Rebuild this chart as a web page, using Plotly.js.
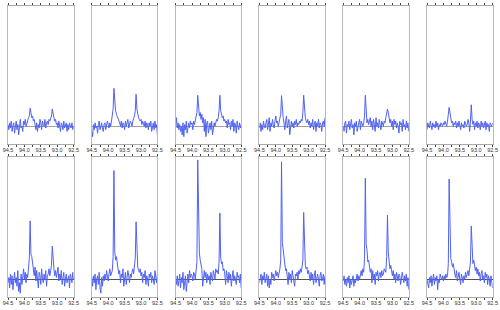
<!DOCTYPE html>
<html>
<head>
<meta charset="utf-8">
<script src="https://cdn.plot.ly/plotly-3.0.1.min.js"></script>
<style>html,body{margin:0;padding:0;background:#fff;}#chart{width:500px;height:310px;}</style>
</head>
<body>
<div id="chart"></div>
<script>
// chemical shift grid (ppm)
const ppm = [94.5,94.475,94.45,94.425,94.4,94.375,94.35,94.325,94.3,94.275,94.25,94.225,94.2,94.175,94.15,94.125,94.1,94.075,94.05,94.025,94.0,93.975,93.95,93.925,93.9,93.875,93.85,93.825,93.8,93.775,93.75,93.725,93.7,93.675,93.65,93.625,93.6,93.575,93.55,93.525,93.5,93.475,93.45,93.425,93.4,93.375,93.35,93.325,93.3,93.275,93.25,93.225,93.2,93.175,93.15,93.125,93.1,93.075,93.05,93.025,93.0,92.975,92.95,92.925,92.9,92.875,92.85,92.825,92.8,92.775,92.75,92.725,92.7,92.675,92.65,92.625,92.6,92.575,92.55,92.525,92.5];

const tickLabels = ["94.5","94.0","93.5","93.0","92.5"];
const tickVals = [94.5,94.0,93.5,93.0,92.5];

// top row spectra
const top1 = [0.1,-0.2,0.2,-0.1,0.3,-0.3,0.0,0.2,-0.4,0.1,0.3,-0.2,0.1,-0.5,0.2,0.4,-0.1,0.0,-0.3,0.3,
 0.1,0.4,0.0,0.2,0.3,0.5,0.6, 1.05, 0.8,0.5,0.6,0.3,0.4,0.1,
 -0.2,0.2,-0.3,0.1,-0.1,0.4,0.2,-0.2,0.3,0.1,0.0,0.4,-0.1,0.2,0.3,0.1,0.4,
 0.3,0.5,0.6, 1.0, 0.6,0.5,0.3,0.4,0.1,
 0.2,-0.1,0.3,0.0,-0.3,0.2,0.1,-0.2,0.3,-0.1,0.0,0.2,-0.3,0.1,-0.2,0.2,0.0,-0.1,0.2,-0.2,0.0];
const top2 = [-0.3,-0.6,0.1,-0.2,0.2,-0.1,0.0,-0.4,0.1,0.3,-0.2,0.0,0.2,-0.1,-0.3,0.1,0.2,-0.2,0.0,0.3,
 0.1,-0.1,0.2,0.0,0.3,0.6,1.0, 2.2, 1.3,0.9,0.7,0.6,0.4,0.3,
 0.2,0.0,0.3,-0.1,0.2,0.1,-0.2,0.3,0.0,0.2,0.4,-0.1,0.1,0.3,0.2,0.0,0.3,
 0.4,0.6,0.9, 1.86, 1.0,0.7,0.5,0.4,0.3,
 0.4,0.1,0.3,0.2,0.0,0.3,-0.1,0.2,0.1,-0.2,0.2,0.0,0.3,-0.3,0.1,0.2,-0.2,0.3,-0.1,0.1,-0.5];
const top3 = [0.0,0.5,-0.1,0.2,-0.2,0.1,-0.3,0.0,-0.5,0.2,-0.6,0.1,-0.2,0.3,-0.4,0.0,0.2,-0.1,0.3,0.1,
 0.2,-0.2,0.3,0.1,0.4,0.5,0.8, 1.8, 1.0,0.6,0.8,0.4,0.7,0.2,
 0.5,-0.3,0.4,-0.6,0.2,0.3,-0.4,0.1,0.2,-0.2,0.3,-0.5,0.1,0.2,0.0,0.3,0.4,
 0.3,0.5,0.9, 1.8, 0.9,0.7,0.5,0.6,0.3,
 0.4,0.2,0.3,-0.1,0.4,0.1,0.2,-0.2,0.3,0.0,0.4,-0.3,0.2,0.1,-0.4,0.3,0.0,-0.2,0.2,-0.1,0.1];
const top4 = [-0.1,0.2,-0.3,0.1,-0.2,0.3,0.0,-0.1,0.2,0.4,-0.2,0.1,0.5,-0.3,0.2,0.0,0.4,0.1,-0.1,0.3,
 0.6,0.2,0.3,0.0,0.2,0.4,0.7, 1.78, 0.9,0.5,0.2,-0.2,0.3,0.6,
 -0.1,0.2,0.4,-0.5,0.1,0.3,0.0,0.2,-0.1,0.3,0.1,0.4,0.0,0.2,0.1,0.3,0.2,
 0.4,0.3,0.8, 1.8, 1.0,0.5,0.3,0.2,0.4,
 0.1,0.3,-0.1,0.2,0.0,0.4,-0.2,0.1,0.3,-0.3,0.2,0.0,0.4,-0.1,0.2,0.1,-0.3,0.2,0.3,0.0,0.5];
const top5 = [0.0,-0.3,0.2,0.3,-0.4,0.1,0.0,0.3,-0.2,0.2,0.4,-0.1,0.1,-0.5,0.2,0.0,0.3,-0.3,0.1,0.2,
 0.4,-0.2,0.3,0.1,0.0,0.2,0.6, 1.8, 0.7,0.2,0.4,0.1,0.3,0.5,
 0.0,0.3,-0.2,0.4,0.1,-0.3,0.5,0.0,0.2,-0.1,0.4,0.1,-0.2,0.3,0.2,0.0,0.3,
 0.2,0.5,0.7, 1.0, 0.8,0.5,0.2,0.4,0.0,
 0.3,-0.2,0.4,0.1,0.3,-0.1,0.2,0.0,-0.4,0.3,0.1,0.2,-0.3,0.4,0.0,0.1,-0.2,0.3,-0.1,0.2,-0.3];
const top6 = [-0.2,0.2,0.0,-0.1,0.3,0.1,-0.2,0.2,0.0,0.1,-0.1,0.3,0.0,0.2,-0.2,0.1,0.0,0.2,0.1,0.0,
 0.2,0.1,0.3,0.2,0.0,0.3,0.7, 1.1, 0.8,0.4,0.2,0.3,0.0,0.2,
 0.1,0.3,-0.1,0.2,0.0,0.3,0.1,-0.2,0.2,0.0,0.1,-0.1,0.3,0.2,0.0,0.1,0.4,
 0.2,-0.3,0.3, 1.25, 0.4,0.1,0.3,-0.2,0.2,
 0.0,0.3,-0.1,0.2,0.1,-0.2,0.3,0.0,0.2,-0.1,0.1,0.3,-0.2,0.2,0.0,0.1,-0.3,0.2,0.1,0.0,0.2];

// bottom row spectra
const bot1 = [-0.2,0.1,-0.5,0.3,-0.3,0.2,-0.6,0.0,0.4,-0.2,0.1,-0.4,0.5,-0.7,-0.2,-0.8,0.3,-0.3,0.1,0.6,
 0.0,0.4,-0.2,0.3,0.1,0.5,1.2, 3.35, 1.4,1.3,0.9,0.6,0.2,0.7,
 -0.1,0.5,0.0,-0.5,0.4,0.2,-0.3,0.6,0.1,-0.2,0.3,0.0,0.5,-0.4,0.2,0.3,0.6,
 0.2,0.5,0.8, 1.9, 0.8,0.6,0.2,0.5,0.1,
 0.4,0.7,-0.1,0.3,0.0,0.5,-0.3,0.2,0.4,-0.4,0.1,0.3,-0.2,0.0,0.2,-0.5,0.3,0.1,-0.2,0.4,0.0];
const bot2 = [0.1,-0.4,0.2,-0.2,0.3,-0.6,0.0,0.2,-0.3,0.4,-0.5,-0.8,0.1,-0.4,0.2,-0.1,0.3,0.0,0.5,0.2,
 -0.1,0.3,0.6,0.2,0.4,0.5,1.3, 6.24, 1.6,1.1,1.3,0.8,0.6,0.3,
 0.5,-0.2,0.3,0.1,0.6,-0.4,0.2,0.4,-0.3,0.0,0.5,0.2,-0.2,0.3,0.1,0.4,0.6,
 0.3,0.7,1.2, 3.3, 1.0,0.7,0.5,0.4,0.6,
 0.2,0.4,-0.2,0.3,0.1,0.5,-0.3,0.2,0.0,-0.4,0.3,0.1,0.4,-0.2,0.2,0.0,-0.3,0.5,0.1,-0.2,0.3];
const bot3 = [0.0,-0.3,0.2,-0.4,-0.1,0.3,-0.5,0.1,-0.2,0.4,-0.6,-0.3,0.2,-0.7,0.0,0.3,-0.2,0.5,0.1,0.3,
 0.2,-0.1,0.4,0.3,0.0,0.6,1.0, 6.85, 2.0,1.5,1.1,0.9,0.6,-0.4,
 0.3,0.5,0.1,0.4,-0.2,0.3,0.0,0.2,-0.3,0.4,0.1,-0.1,0.5,0.2,0.0,0.6,0.4,
 0.5,0.3,1.0, 3.8, 1.2,0.9,1.0,0.5,0.6,
 0.3,-0.3,0.5,0.2,-0.2,0.4,0.0,0.3,-0.4,0.1,0.5,-0.1,0.2,0.0,-0.3,0.4,0.1,0.2,-0.2,0.3,-0.5];
const bot4 = [-0.2,0.1,0.3,-0.3,0.2,0.0,0.4,-0.2,0.1,0.3,-0.4,0.2,-0.5,0.0,-0.3,0.4,0.1,0.3,-0.1,0.2,
 0.5,0.2,0.4,0.1,0.3,0.6,1.1, 6.74, 2.1,1.6,1.2,0.8,0.5,0.6,
 0.2,-0.3,0.4,0.0,0.3,-0.2,0.5,0.1,0.0,-0.4,0.3,0.2,0.4,0.0,0.5,0.3,0.6,
 0.4,0.7,1.1, 3.83, 1.1,0.8,0.6,0.7,0.3,
 0.5,0.2,-0.1,0.4,0.0,0.3,-0.3,0.2,0.5,-0.2,0.1,0.3,0.0,-0.4,0.2,0.4,-0.1,0.0,0.3,-0.3,0.2];
const bot5 = [-0.1,0.2,-0.3,0.0,-0.4,0.1,-0.2,0.2,-0.5,0.0,-0.3,0.1,0.2,-0.4,0.0,-0.2,0.1,0.3,-0.1,0.2,
 0.0,0.3,0.5,0.2,0.6,0.4,1.2, 5.8, 2.0,1.7,1.0,1.1,0.7,0.4,
 0.6,-0.2,0.5,0.0,0.3,-0.3,0.4,0.2,0.5,-0.1,0.3,0.4,0.1,0.5,0.2,0.3,0.6,
 0.5,0.4,1.3, 3.68, 1.5,1.0,0.6,0.8,0.4,
 0.2,0.5,0.0,0.3,-0.2,0.4,0.1,-0.1,0.3,0.2,-0.3,0.0,0.4,0.1,-0.2,0.2,-0.1,0.3,-0.4,0.1,-0.6];
const bot6 = [0.0,-0.3,-0.5,0.1,-0.2,0.2,-0.4,0.0,0.3,-0.3,0.1,-0.1,0.2,-0.6,0.0,-0.2,0.3,0.1,0.0,0.2,
 -0.1,0.2,0.0,0.3,0.1,0.2,0.9, 5.75, 1.8,1.2,1.0,0.7,0.9,0.4,
 0.3,0.1,0.5,-0.1,0.2,0.4,0.0,-0.3,0.3,0.1,-0.2,0.2,0.0,0.4,0.1,0.3,0.5,
 0.2,0.6,1.0, 3.06, 1.2,0.9,1.1,0.8,0.5,
 0.7,0.3,0.6,0.2,0.4,-0.1,0.3,0.5,0.0,0.2,-0.2,0.4,0.1,0.3,-0.3,0.2,0.0,-0.4,0.2,-0.2,-0.5];

const spectra = [top1, top2, top3, top4, top5, top6, bot1, bot2, bot3, bot4, bot5, bot6];

const W = 500, H = 310;
const colLeft = [8, 91.8, 175.6, 259.4, 343.2, 427];
const colWidth = 65.6;
const rowTop = [[5.7, 143.5], [157.3, 296.7]];

const data = [];
const layout = {
  width: W, height: H,
  margin: {l: 0, r: 0, t: 0, b: 0, pad: 0},
  paper_bgcolor: '#fff', plot_bgcolor: '#fff',
  showlegend: false
};
const font = {family: 'Liberation Sans, Arial, sans-serif', size: 5.5, color: '#333'};

spectra.forEach((ys, k) => {
  const row = k < 6 ? 0 : 1;
  const col = k % 6;
  const n = k + 1;
  const sfx = n === 1 ? '' : String(n);
  data.push({
    x: ppm, y: ys, type: 'scatter', mode: 'lines',
    xaxis: 'x' + sfx, yaxis: 'y' + sfx,
    line: {color: '#4f62f5', width: 1},
    hoverinfo: 'skip'
  });
  const x0 = colLeft[col];
  const [yt, yb] = rowTop[row];
  layout['xaxis' + sfx] = {
    domain: [x0 / W, (x0 + colWidth) / W],
    range: [94.5, 92.5], anchor: 'y' + sfx,
    showline: true, linecolor: '#aaa', linewidth: 1, mirror: 'ticks',
    ticks: 'outside', ticklen: 2, tickwidth: 1, tickcolor: '#444',
    tickvals: tickVals, ticktext: tickLabels, tickfont: font,
    ticklabelstandoff: -1,
    minor: {dtick: 0.25, tick0: 94.5, ticks: 'outside', ticklen: 2, tickwidth: 1, tickcolor: '#444', showgrid: false},
    showgrid: false, zeroline: false, fixedrange: true
  };
  layout['yaxis' + sfx] = {
    domain: [1 - yb / H, 1 - yt / H],
    range: [-1, 7], anchor: 'x' + sfx,
    showline: true, linecolor: '#bbb', linewidth: 1, mirror: true,
    showticklabels: false, ticks: '', showgrid: false,
    zeroline: true, zerolinecolor: row === 0 ? '#a0a0a0' : '#555', zerolinewidth: 1,
    fixedrange: true
  };
});

Plotly.newPlot('chart', data, layout, {staticPlot: true, displayModeBar: false});
</script>
</body>
</html>
